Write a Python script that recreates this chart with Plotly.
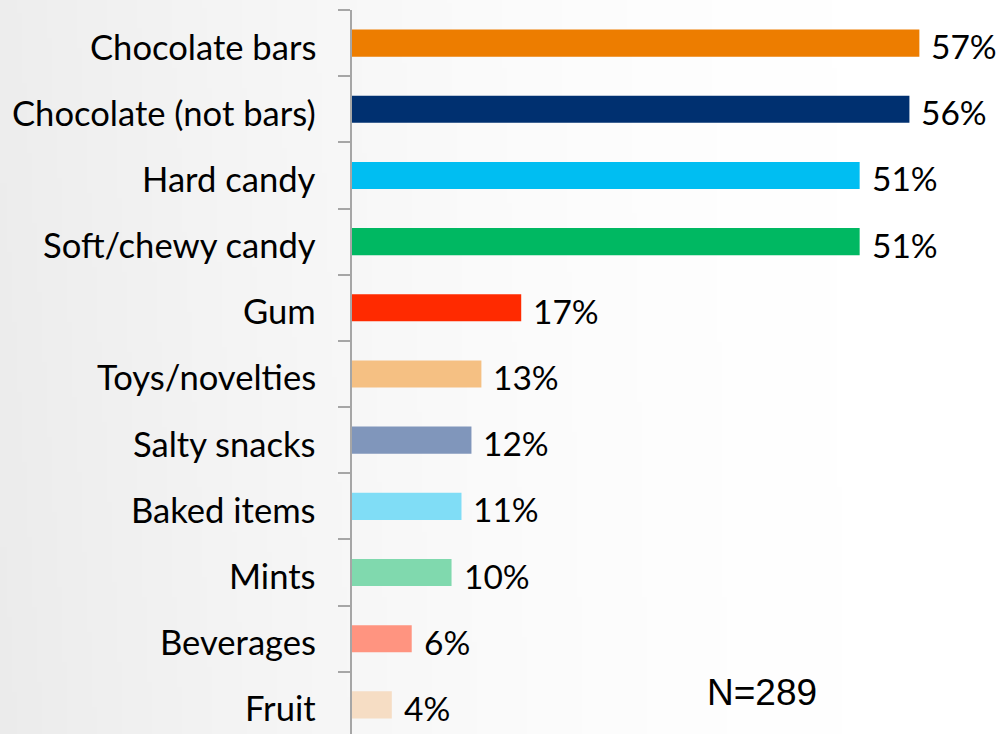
import base64
import struct
import zlib

import plotly.graph_objects as go

# Share of respondents by item type (N=289)
categories = [
    "Chocolate bars", "Chocolate (not bars)", "Hard candy", "Soft/chewy candy",
    "Gum", "Toys/novelties", "Salty snacks", "Baked items", "Mints",
    "Beverages", "Fruit",
]
values = [57, 56, 51, 51, 17, 13, 12, 11, 10, 6, 4]
bar_colors = [
    "#ED7D00", "#003070", "#00BEF2", "#00B862", "#FF2A00", "#F5C083",
    "#8096BB", "#80DDF6", "#80D9AE", "#FF9480", "#F6DDC4",
]
note = "N=289"

W, H = 999, 734
L, T = 352, 10


def gradient_png(w=200, h=147):
    """Soft grey-to-white backdrop, darker on the left."""
    rows = b""
    for j in range(h):
        row = bytearray([0])
        for i in range(w):
            fx = i / (w - 1)
            fy = j / (h - 1)
            v = 255 - 20 * (1 - fx) ** 2 * (0.9 + 0.1 * fy)
            row.append(max(0, min(255, int(round(v)))))
        rows += bytes(row)

    def chunk(tag, data):
        c = tag + data
        return struct.pack(">I", len(data)) + c + struct.pack(">I", zlib.crc32(c) & 0xFFFFFFFF)

    png = b"\x89PNG\r\n\x1a\n"
    png += chunk(b"IHDR", struct.pack(">IIBBBBB", w, h, 8, 0, 0, 0, 0))
    png += chunk(b"IDAT", zlib.compress(rows, 9))
    png += chunk(b"IEND", b"")
    return "data:image/png;base64," + base64.b64encode(png).decode()


fig = go.Figure(
    go.Bar(
        x=values,
        y=categories,
        orientation="h",
        marker=dict(color=bar_colors, line=dict(width=0)),
        width=0.41,
        hoverinfo="skip",
    )
)

label_font = dict(family="Lato, sans-serif", size=34.6, color="#000000")
value_font = dict(family="Lato, sans-serif", size=33.5, color="#000000")

for cat, val in zip(categories, values):
    # category name, right-aligned left of the axis
    fig.add_annotation(
        x=0, xref="paper", y=cat, text=cat, showarrow=False,
        xanchor="right", yanchor="middle", xshift=-34, yshift=-3,
        font=label_font,
    )
    # value label at the end of the bar
    fig.add_annotation(
        x=val, y=cat, text=f"{val}%", showarrow=False,
        xanchor="left", yanchor="middle", xshift=10, yshift=-3,
        font=value_font,
    )

fig.add_annotation(
    x=(762 - L) / (W - L), y=1 - (692 - T) / (H - T),
    xref="paper", yref="paper",
    text=note, showarrow=False, xanchor="center", yanchor="middle",
    font=dict(family="Liberation Sans, Arial, sans-serif", size=37, color="#000000"),
)

fig.update_layout(
    width=W, height=H,
    margin=dict(l=L, r=0, t=T, b=0),
    paper_bgcolor="rgba(0,0,0,0)",
    plot_bgcolor="rgba(0,0,0,0)",
    showlegend=False,
    images=[dict(
        source=gradient_png(), xref="paper", yref="paper",
        x=-L / (W - L), y=1 + T / (H - T),
        sizex=W / (W - L), sizey=H / (H - T),
        xanchor="left", yanchor="top", sizing="stretch", layer="below",
    )],
    xaxis=dict(
        range=[0, 65], visible=False, fixedrange=True,
    ),
    yaxis=dict(
        categoryorder="array", categoryarray=categories,
        range=[10.44, -0.5],
        showline=True, linecolor="#A6A6A6", linewidth=2,
        ticks="outside", tickson="boundaries", ticklen=12,
        tickcolor="#A6A6A6", tickwidth=2,
        showticklabels=False,
        showgrid=False, zeroline=False,
        fixedrange=True,
    ),
)

fig.write_html("out.html")
